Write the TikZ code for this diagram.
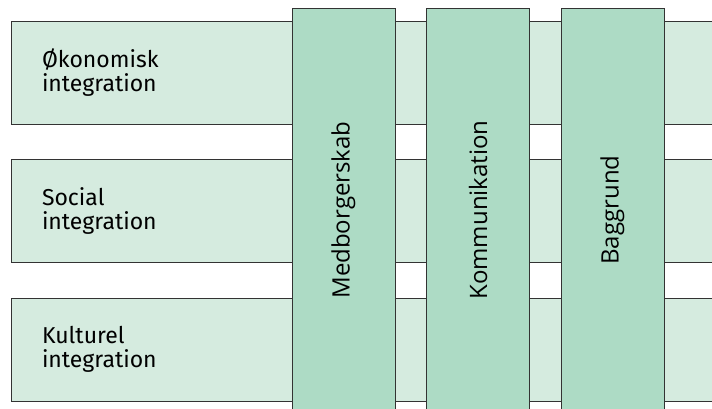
\documentclass[tikz,border=0pt]{standalone}
\usepackage{fontspec}
\setmainfont{Fira Sans}
\newfontfamily\colfont{Open Sans}
\usetikzlibrary{positioning}

\definecolor{barfill}{HTML}{D5EBDF}
\definecolor{colfill}{HTML}{ADDBC5}
\definecolor{edge}{HTML}{333333}

\begin{document}
\begin{tikzpicture}[x=1pt, y=-1pt,
    bar/.style={draw=edge, line width=0.9pt, fill=barfill, minimum width=709pt, minimum height=103pt,
        text width=647pt, inner xsep=31pt, align=left, font=\fontsize{23}{24.5}\selectfont},
    column/.style={draw=edge, line width=0.9pt, fill=colfill, rotate=90, minimum width=404pt,
        minimum height=103pt, font=\colfont\fontsize{24}{28}\selectfont}]
    \useasboundingbox (0,0) rectangle (712,409);
    \clip (0,0) rectangle (712,409);
    % Define bars
        \node[bar] (oek) at (365.5,72.5) {Økonomisk\\integration};
        \node[bar] (soc) at (365.5,211) {Social\\integration};
        \node[bar] (kult) at (365.5,349.5) {Kulturel\\integration};
    % Define columns
        \node[column] (medb) at (343.5,210) {Medborgerskab};
        \node[column] (komm) at (478,210) {Kommunikation};
        \node[column] (bagg) at (612.5,210) {Baggrund};
\end{tikzpicture}
\end{document}
